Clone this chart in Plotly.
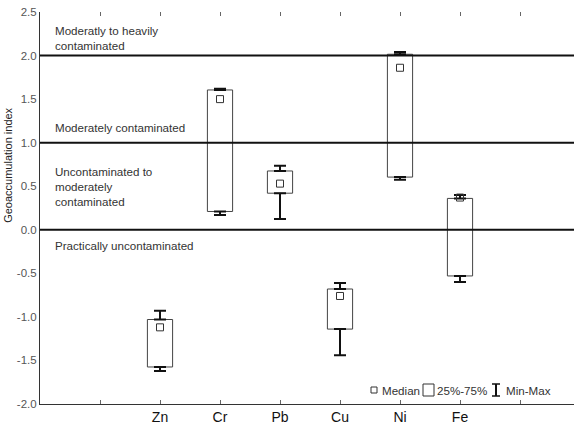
import plotly.graph_objects as go

categories = ["Zn", "Cr", "Pb", "Cu", "Ni", "Fe"]
positions = [2, 3, 4, 5, 6, 7]
q1 = [-1.575, 0.21, 0.42, -1.14, 0.605, -0.53]
q3 = [-1.03, 1.605, 0.675, -0.68, 2.015, 0.36]
median = [-1.12, 1.50, 0.53, -0.76, 1.86, 0.37]
vmin = [-1.62, 0.17, 0.125, -1.44, 0.575, -0.60]
vmax = [-0.93, 1.62, 0.735, -0.61, 2.04, 0.40]
thresholds = [0.0, 1.0, 2.0]
zone_labels = [
    (2.2, "Moderatly to heavily<br>contaminated"),
    (1.17, "Moderately contaminated"),
    (0.5, "Uncontaminated to<br>moderately<br>contaminated"),
    (-0.18, "Practically uncontaminated"),
]
ytick_vals = [-2.0, -1.5, -1.0, -0.5, 0.0, 0.5, 1.0, 1.5, 2.0, 2.5]
xtick_vals = [1, 2, 3, 4, 5, 6, 7, 8]
xtick_text = [""] + categories + [""]

FONT = "Liberation Sans, Arial, sans-serif"
fig = go.Figure()

# upper whiskers
fig.add_trace(go.Scatter(
    x=positions, y=q3, mode="markers", marker=dict(size=1, color="rgba(0,0,0,0)"),
    error_y=dict(type="data", symmetric=False,
                 array=[a - b for a, b in zip(vmax, q3)],
                 arrayminus=[0] * len(q3), color="#111", thickness=2, width=6),
    showlegend=False, hoverinfo="skip"))
# lower whiskers
fig.add_trace(go.Scatter(
    x=positions, y=q1, mode="markers", marker=dict(size=1, color="rgba(0,0,0,0)"),
    error_y=dict(type="data", symmetric=False,
                 array=[0] * len(q1),
                 arrayminus=[a - b for a, b in zip(q1, vmin)], color="#111", thickness=2, width=6),
    showlegend=False, hoverinfo="skip"))
# boxes
fig.add_trace(go.Bar(
    x=positions, y=[a - b for a, b in zip(q3, q1)], base=q1, width=0.42,
    marker=dict(color="rgba(255,255,255,0)", line=dict(color="#444", width=1)),
    showlegend=False, hoverinfo="skip"))
# medians
fig.add_trace(go.Scatter(
    x=positions, y=median, mode="markers",
    marker=dict(symbol="square-open", size=7, color="#333", line=dict(width=1)),
    showlegend=False, hoverinfo="skip"))

shapes = []
for t in thresholds:
    shapes.append(dict(type="line", xref="paper", x0=0, x1=1, yref="y", y0=t, y1=t,
                       line=dict(color="#111", width=2), layer="above"))

annotations = []
for y, txt in zone_labels:
    annotations.append(dict(x=0.024, xref="paper", y=y, yref="y", text=txt, showarrow=False,
                            xanchor="left", yanchor="middle", align="left",
                            font=dict(family=FONT, size=11.6, color="#333")))
annotations.append(dict(x=-0.06, xref="paper", y=0.61, yref="paper", text="Geoaccumulation index",
                        textangle=-90, showarrow=False, xanchor="center", yanchor="middle",
                        font=dict(family=FONT, size=11, color="#222")))

# legend (drawn in paper coordinates)
W, H, L, B = 534.0, 392.0, 40.0, 26.0
def px(x):
    return (x - L) / W
def py(y):
    return (430 - B - y) / H
shapes.append(dict(type="rect", xref="paper", yref="paper", x0=px(371), x1=px(377),
                   y0=py(393), y1=py(387), line=dict(color="#333", width=1)))
shapes.append(dict(type="rect", xref="paper", yref="paper", x0=px(423), x1=px(434),
                   y0=py(396), y1=py(384), line=dict(color="#333", width=1)))
shapes.append(dict(type="line", xref="paper", yref="paper", x0=px(496), x1=px(496),
                   y0=py(396), y1=py(384), line=dict(color="#111", width=2)))
shapes.append(dict(type="line", xref="paper", yref="paper", x0=px(492), x1=px(500),
                   y0=py(384), y1=py(384), line=dict(color="#111", width=1.5)))
shapes.append(dict(type="line", xref="paper", yref="paper", x0=px(492), x1=px(500),
                   y0=py(396), y1=py(396), line=dict(color="#111", width=1.5)))
for xx, txt in [(380, "Median"), (435, "25%-75%"), (504, "Min-Max")]:
    annotations.append(dict(x=px(xx), xref="paper", y=py(390), yref="paper", text=txt,
                            showarrow=False, xanchor="left", yanchor="middle",
                            font=dict(family=FONT, size=11.6, color="#333")))

fig.update_layout(
    width=574, height=430, margin=dict(l=40, r=0, t=12, b=26),
    paper_bgcolor="white", plot_bgcolor="white",
    shapes=shapes, annotations=annotations, barmode="overlay",
    xaxis=dict(range=[0, 8.9], tickvals=xtick_vals, ticktext=xtick_text,
               showgrid=False, zeroline=False, showline=True, linecolor="#333", linewidth=1,
               ticks="inside", ticklen=4, tickcolor="#666",
               tickfont=dict(family=FONT, size=14, color="#111")),
    xaxis2=dict(range=[0, 8.9], tickvals=xtick_vals, showticklabels=False, overlaying="x",
                side="top", showgrid=False, zeroline=False, showline=False,
                ticks="inside", ticklen=4, tickcolor="#666"),
    yaxis=dict(range=[-2.0, 2.5], tickvals=ytick_vals,
               ticktext=[f"{v:.1f}" for v in ytick_vals],
               showgrid=False, zeroline=False, showline=True, linecolor="#333", linewidth=1,
               ticks="", tickfont=dict(family=FONT, size=11.5, color="#555")),
)
# dummy trace for the top axis ticks
fig.add_trace(go.Scatter(x=[0], y=[-5], xaxis="x2", mode="markers",
                         marker=dict(opacity=0), showlegend=False, hoverinfo="skip"))

fig.write_html("out.html")
